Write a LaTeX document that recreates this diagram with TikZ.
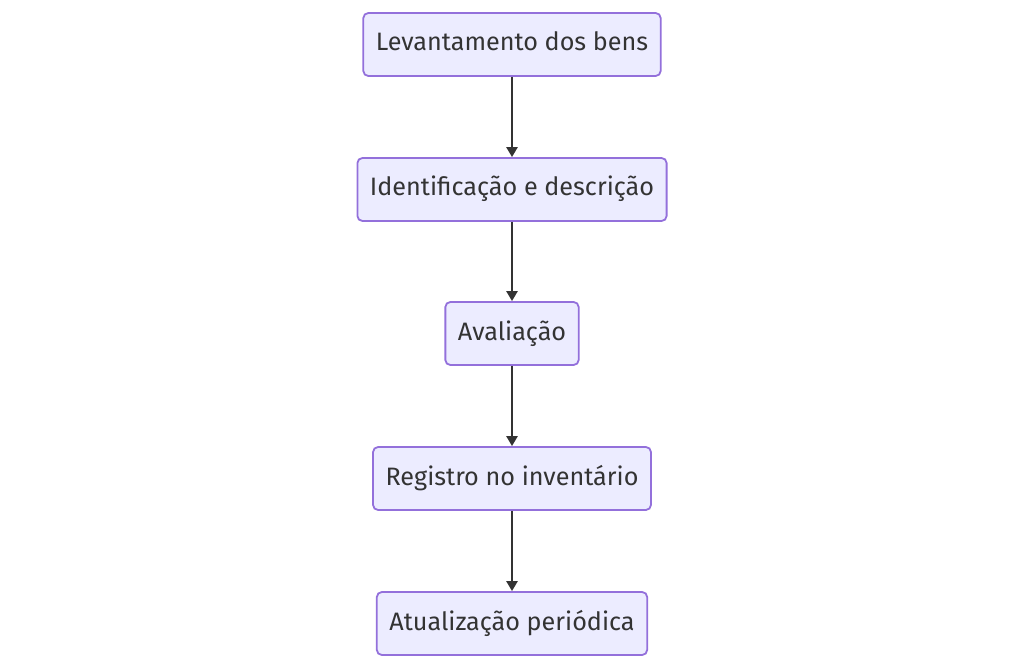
\documentclass[tikz,border=0pt]{standalone}
\usepackage{fontspec}
\setmainfont{Fira Sans}
\usepackage{xcolor}
\usetikzlibrary{arrows.meta, positioning}

\definecolor{boxfill}{HTML}{ECECFF}
\definecolor{boxline}{HTML}{9370DB}
\definecolor{ink}{HTML}{333333}

\begin{document}
\begin{tikzpicture}[
        x=1pt, y=-1pt,
        every node/.style={font=\fontsize{25.2}{30}\selectfont, text=ink},
        stepbox/.style={draw=boxline, fill=boxfill, line width=1.8pt, rounded corners=5pt,
            minimum height=63pt, inner xsep=12.5pt, text height=19pt, text depth=6pt},
        flow/.style={-{Triangle[length=10pt, width=11pt]}, line width=2.4pt, draw=ink}
    ]
        % Canvas
        \useasboundingbox (0,0) rectangle (1024,668);

        % Steps
        \node[stepbox] (lev) at (512,44.5) {Levantamento dos bens};
        \node[stepbox] (ide) at (512,189.5) {Identificação e descrição};
        \node[stepbox] (ava) at (512,333.5) {Avaliação};
        \node[stepbox] (reg) at (512,478.5) {Registro no inventário};
        \node[stepbox] (atu) at (512,623.5) {Atualização periódica};

        % Connectors
        \draw[flow] (lev) -- (ide);
        \draw[flow] (ide) -- (ava);
        \draw[flow] (ava) -- (reg);
        \draw[flow] (reg) -- (atu);

    \end{tikzpicture}
\end{document}
